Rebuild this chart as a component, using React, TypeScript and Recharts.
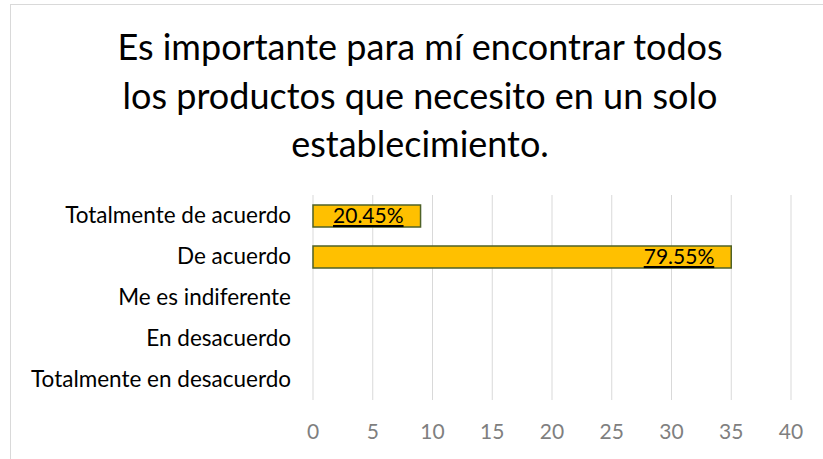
import { BarChart, Bar, XAxis, YAxis, CartesianGrid, LabelList } from "recharts"

const categories = [
  "Totalmente de acuerdo",
  "De acuerdo",
  "Me es indiferente",
  "En desacuerdo",
  "Totalmente en desacuerdo",
]
const counts = [9, 35, 0, 0, 0]
const percentLabels = ["20.45%", "79.55%", "", "", ""]
const xTicks = [0, 5, 10, 15, 20, 25, 30, 35, 40]
const titleLines = [
  "Es importante para mí encontrar todos",
  "los productos que necesito en un solo",
  "establecimiento.",
]

const data = categories.map((c, i) => ({
  categoria: c,
  valor: counts[i],
  etiqueta: percentLabels[i],
}))

const FONT = "Lato, 'Open Sans', sans-serif"

// eslint-disable-next-line @typescript-eslint/no-explicit-any
function PercentLabel(props: any) {
  const { x, y, width, height, value } = props
  if (!value) return null
  return (
    <text
      x={x + width - 17}
      y={y + height / 2 + 7}
      textAnchor="end"
      fontSize={21}
      fill="#000"
      style={{ textDecoration: "underline", fontFamily: FONT }}
    >
      {value}
    </text>
  )
}

export default function App() {
  return (
    <div
      style={{
        position: "fixed",
        left: 0,
        top: 0,
        width: 823,
        height: 459,
        overflow: "hidden",
        background: "#fff",
        fontFamily: FONT,
      }}
    >
      <div
        style={{
          position: "absolute",
          left: 10,
          top: 4,
          width: 840,
          height: 480,
          border: "1px solid #d9d9d9",
        }}
      />
      <div
        style={{
          position: "absolute",
          left: 0,
          top: 22,
          width: 840,
          textAlign: "center",
          fontSize: 36,
          lineHeight: "48.5px",
          color: "#000",
        }}
      >
        {titleLines.map((l) => (
          <div key={l}>{l}</div>
        ))}
      </div>
      <div style={{ position: "absolute", left: 0, top: 0 }}>
        <BarChart
          width={823}
          height={459}
          data={data}
          layout="vertical"
          margin={{ top: 195, right: 32, bottom: 0, left: 0 }}
          barSize={22}
        >
          <CartesianGrid horizontal={false} stroke="#d9d9d9" />
          <XAxis
            type="number"
            domain={[0, 40]}
            ticks={xTicks}
            axisLine={false}
            tickLine={false}
            tick={{ fontSize: 21, fill: "#7f7f7f", fontFamily: FONT }}
            height={59}
            tickMargin={18}
          />
          <YAxis
            type="category"
            dataKey="categoria"
            width={313}
            axisLine={false}
            tickLine={false}
            tickMargin={16}
            tick={{ fontSize: 22.5, fill: "#000", fontFamily: FONT }}
          />
          <Bar
            dataKey="valor"
            fill="#ffc000"
            stroke="#4f6228"
            strokeWidth={1.5}
            isAnimationActive={false}
          >
            <LabelList dataKey="etiqueta" content={<PercentLabel />} />
          </Bar>
        </BarChart>
      </div>
    </div>
  )
}
